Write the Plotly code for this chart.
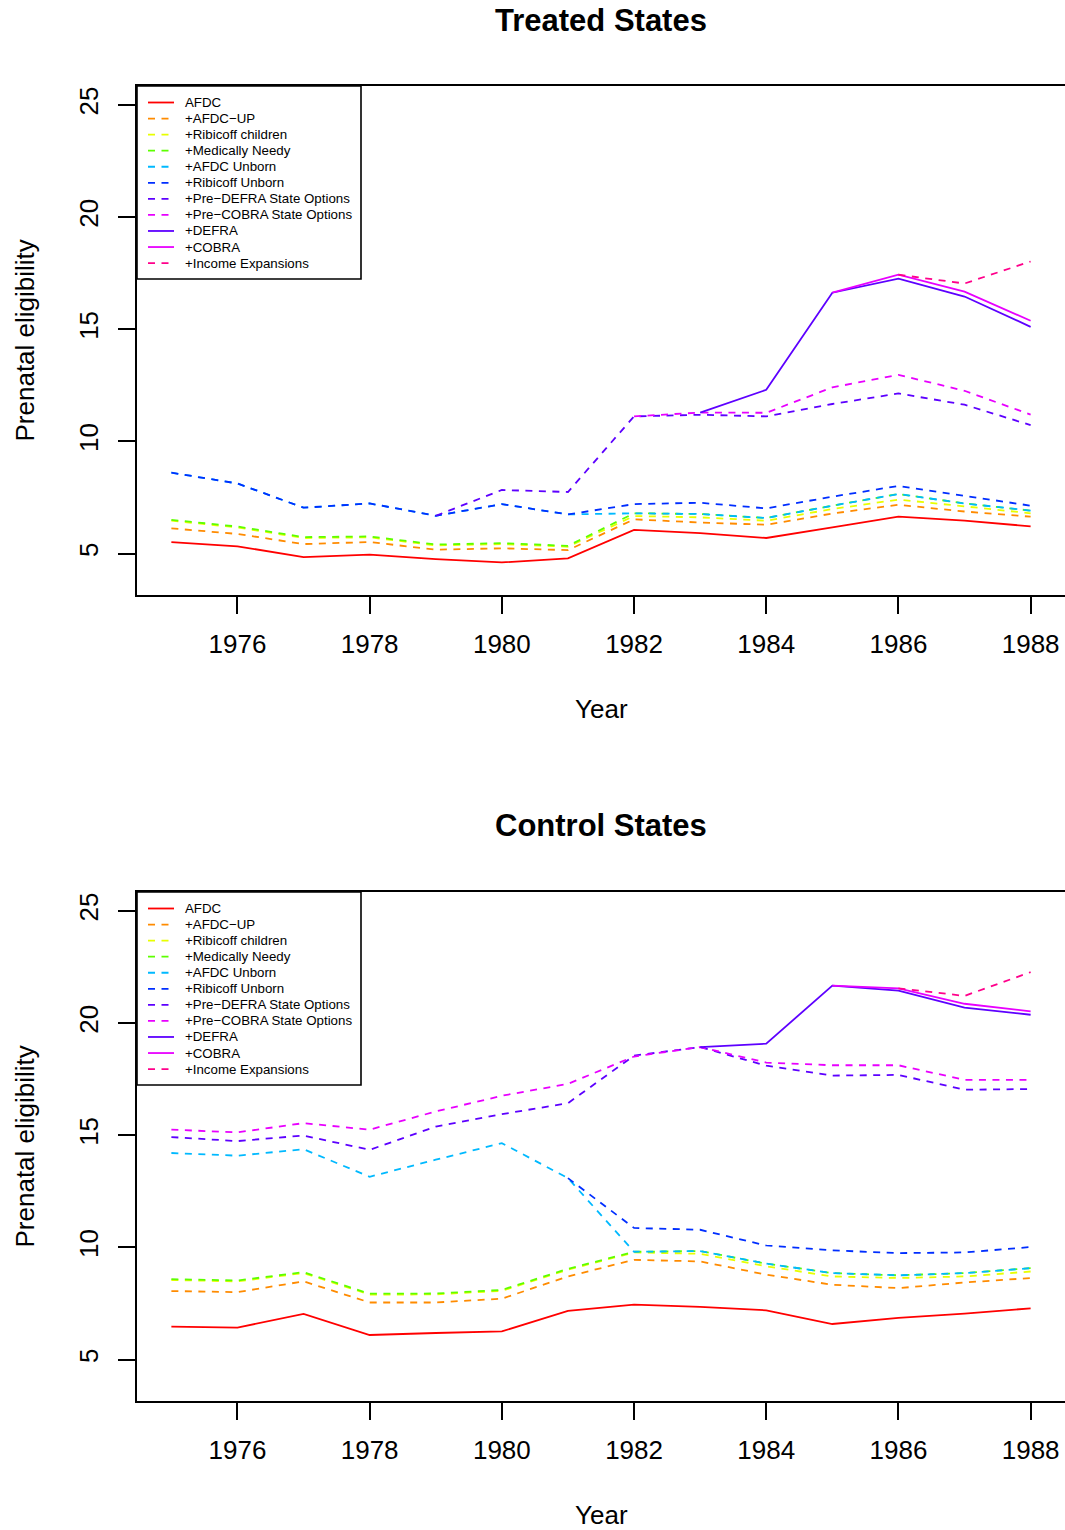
import plotly.graph_objects as go

# ---- data -------------------------------------------------------------
years = list(range(1975, 1989))
x_ticks = [1976, 1978, 1980, 1982, 1984, 1986, 1988]
y_ticks = [5, 10, 15, 20, 25]

series_names = [
    "AFDC", "+AFDC\u2212UP", "+Ribicoff children", "+Medically Needy",
    "+AFDC Unborn", "+Ribicoff Unborn", "+Pre\u2212DEFRA State Options",
    "+Pre\u2212COBRA State Options", "+DEFRA", "+COBRA", "+Income Expansions",
]
series_colors = [
    "#FF0000", "#FF8B00", "#E8FF00", "#5DFF00", "#00B9FF", "#002EFF",
    "#5D00FF", "#E800FF", "#5D00FF", "#E800FF", "#FF008B",
]
series_solid = [True, False, False, False, False, False, False, False, True, True, False]

# Treated states
t_afdc = [5.52, 5.33, 4.85, 4.96, 4.76, 4.61, 4.79, 6.06, 5.92, 5.70, 6.17, 6.65, 6.47, 6.22]
t_afdc_up = [6.13, 5.88, 5.43, 5.52, 5.18, 5.24, 5.16, 6.53, 6.39, 6.29, 6.79, 7.18, 6.88, 6.65]
t_ribicoff_children = [6.47, 6.17, 5.70, 5.73, 5.37, 5.43, 5.31, 6.68, 6.62, 6.47, 6.99, 7.41, 7.11, 6.80]
t_medically_needy = [6.51, 6.21, 5.74, 5.77, 5.41, 5.47, 5.35, 6.80, 6.77, 6.59, 7.14, 7.66, 7.24, 6.92]
t_afdc_unborn = [8.61, 8.13, 7.05, 7.24, 6.69, 7.21, 6.75, 6.80, 6.77, 6.59, 7.14, 7.66, 7.24, 6.92]
t_ribicoff_unborn = [8.61, 8.13, 7.05, 7.24, 6.69, 7.21, 6.75, 7.21, 7.27, 7.02, 7.54, 8.02, 7.58, 7.14]
t_pre_defra = [None, None, None, None, 6.69, 7.84, 7.75, 11.12, 11.19, 11.12, 11.67, 12.14, 11.64, 10.73]
t_pre_cobra = [None, None, None, None, None, None, None, 11.12, 11.29, 11.28, 12.41, 12.97, 12.26, 11.20]
t_defra = [None, None, None, None, None, None, None, None, 11.29, 12.30, 16.63, 17.26, 16.46, 15.11]
t_cobra = [None, None, None, None, None, None, None, None, None, None, 16.63, 17.43, 16.68, 15.38]
t_income = [None, None, None, None, None, None, None, None, None, None, None, 17.43, 17.04, 18.02]

# Control states
c_afdc = [6.47, 6.43, 7.04, 6.10, 6.19, 6.26, 7.18, 7.45, 7.35, 7.20, 6.59, 6.86, 7.05, 7.29]
c_afdc_up = [8.06, 8.01, 8.49, 7.55, 7.55, 7.72, 8.71, 9.45, 9.38, 8.79, 8.34, 8.19, 8.44, 8.64]
c_ribicoff_children = [8.55, 8.49, 8.86, 7.90, 7.91, 8.07, 9.01, 9.78, 9.72, 9.16, 8.71, 8.64, 8.71, 8.93]
c_medically_needy = [8.59, 8.53, 8.90, 7.94, 7.95, 8.11, 9.05, 9.81, 9.84, 9.28, 8.86, 8.76, 8.86, 9.08]
c_afdc_unborn = [14.21, 14.09, 14.38, 13.15, 13.91, 14.65, 13.09, 9.81, 9.84, 9.28, 8.86, 8.76, 8.86, 9.08]
c_ribicoff_unborn = [None, None, None, None, None, None, 13.09, 10.87, 10.79, 10.09, 9.87, 9.75, 9.78, 10.02]
c_pre_defra = [14.92, 14.74, 14.99, 14.35, 15.39, 15.94, 16.43, 18.55, 18.93, 18.10, 17.66, 17.69, 17.03, 17.06]
c_pre_cobra = [15.25, 15.13, 15.54, 15.25, 16.06, 16.76, 17.29, 18.51, 18.93, 18.24, 18.12, 18.12, 17.47, 17.47]
c_defra = [None, None, None, None, None, None, None, None, 18.93, 19.08, 21.67, 21.45, 20.69, 20.37]
c_cobra = [None, None, None, None, None, None, None, None, None, None, 21.67, 21.55, 20.86, 20.52]
c_income = [None, None, None, None, None, None, None, None, None, None, None, 21.55, 21.21, 22.27]

treated = [t_afdc, t_afdc_up, t_ribicoff_children, t_medically_needy, t_afdc_unborn,
           t_ribicoff_unborn, t_pre_defra, t_pre_cobra, t_defra, t_cobra, t_income]
control = [c_afdc, c_afdc_up, c_ribicoff_children, c_medically_needy, c_afdc_unborn,
           c_ribicoff_unborn, c_pre_defra, c_pre_cobra, c_defra, c_cobra, c_income]

panels = [("Treated States", treated, "x", "y"), ("Control States", control, "x2", "y2")]

# ---- styling ----------------------------------------------------------
FONT = "Liberation Sans, Arial, Helvetica, sans-serif"
DASH = "7px,6.5px"
LINE_W = 1.8
W, H = 1065, 1530
M_L, M_R, M_T, M_B = 137, 0, 86, 129
PANEL_H = 509
PLOT_W = W - M_L - M_R
X_RANGE = [1974.48, 1988.52]
Y_RANGE = [3.16, 25.84]

fig = go.Figure()

for title, data, xa, ya in panels:
    for name, vals, col, solid in zip(series_names, data, series_colors, series_solid):
        fig.add_trace(go.Scatter(
            x=years, y=vals, mode="lines", name=name, showlegend=False,
            xaxis=xa, yaxis=ya, connectgaps=False,
            line=dict(color=col, width=LINE_W, dash="solid" if solid else DASH),
        ))

axis_common = dict(
    showgrid=False, zeroline=False, showline=True, linecolor="black", linewidth=1.6,
    ticks="outside", ticklen=17, tickwidth=1.6, tickcolor="black",
    tickfont=dict(family=FONT, size=26, color="black"),
)

total_h = H - M_T - M_B
top_dom = [(total_h - PANEL_H) / total_h, 1.0]
bot_dom = [0.0, PANEL_H / total_h]

layout = dict(
    width=W, height=H,
    margin=dict(l=M_L, r=M_R, t=M_T, b=M_B),
    paper_bgcolor="white", plot_bgcolor="white",
    showlegend=False,
    font=dict(family=FONT, color="black"),
)
for suffix, dom, anchor_x, anchor_y in [("", top_dom, "y", "x"), ("2", bot_dom, "y2", "x2")]:
    layout["xaxis" + suffix] = dict(
        axis_common, range=X_RANGE, tickvals=x_ticks, domain=[0, 1],
        anchor=anchor_x, mirror=True, ticklabelstandoff=8,
    )
    layout["yaxis" + suffix] = dict(
        axis_common, range=Y_RANGE, tickvals=y_ticks, domain=dom,
        anchor=anchor_y, tickangle=-90, ticklabelstandoff=10,
    )
fig.update_layout(**layout)

# ---- titles, axis labels and legend boxes ------------------------------
LEG_W = 224
LEG_H = 193
ROW0 = 16.5
ROW_STEP = 16.06
SAMPLE_X0, SAMPLE_X1, TEXT_X = 11, 37, 46

for title, data, xa, ya in panels:
    xd, yd = xa + " domain", ya + " domain"
    fig.add_annotation(text="<b>%s</b>" % title, xref=xd, yref=yd, x=0.5,
                       y=1 + 66 / PANEL_H, showarrow=False,
                       font=dict(family=FONT, size=31, color="black"),
                       xanchor="center", yanchor="middle")
    fig.add_annotation(text="Year", xref=xd, yref=yd, x=0.5, y=-114 / PANEL_H,
                       showarrow=False, font=dict(family=FONT, size=26, color="black"),
                       xanchor="center", yanchor="middle")
    fig.add_annotation(text="Prenatal eligibility", xref=xd, yref=yd,
                       x=-113 / PLOT_W, y=0.5, textangle=-90, showarrow=False,
                       font=dict(family=FONT, size=26, color="black"),
                       xanchor="center", yanchor="middle")
    fig.add_shape(type="rect", xref=xd, yref=yd, x0=0, x1=LEG_W / PLOT_W,
                  y0=1 - LEG_H / PANEL_H, y1=1,
                  line=dict(color="black", width=1.6), fillcolor="white", layer="above")
    for i, (name, col, solid) in enumerate(zip(series_names, series_colors, series_solid)):
        yy = 1 - (ROW0 + ROW_STEP * i) / PANEL_H
        fig.add_shape(type="line", xref=xd, yref=yd,
                      x0=SAMPLE_X0 / PLOT_W, x1=SAMPLE_X1 / PLOT_W, y0=yy, y1=yy,
                      line=dict(color=col, width=LINE_W, dash="solid" if solid else DASH),
                      layer="above")
        fig.add_annotation(text=name, xref=xd, yref=yd, x=TEXT_X / PLOT_W, y=yy,
                           showarrow=False, xanchor="left", yanchor="middle",
                           font=dict(family=FONT, size=13.3, color="black"))

fig.write_html("out.html")
